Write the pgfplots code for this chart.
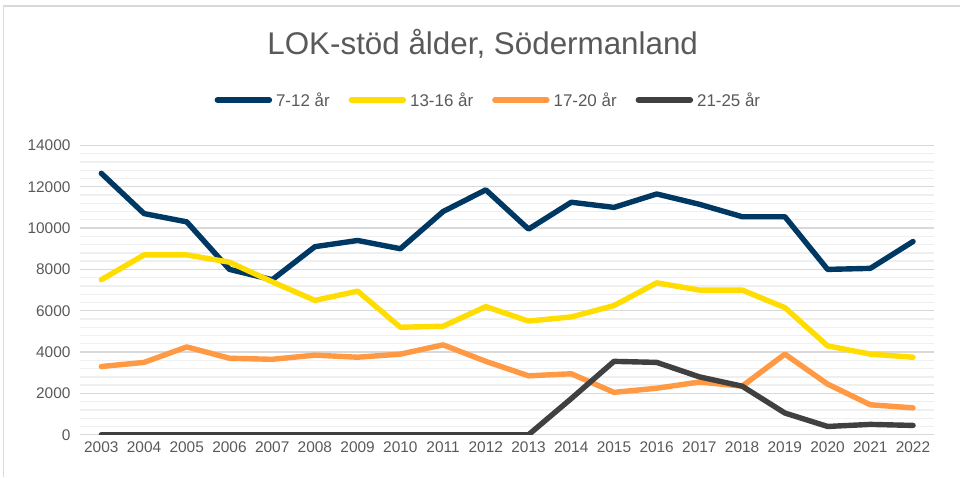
\documentclass[border=0pt]{standalone}
\usepackage{pgfplots}
\pgfplotsset{compat=1.18}
\usepackage{fontspec}
\setmainfont{Liberation Sans}
\definecolor{navy}{HTML}{003864}
\definecolor{yel}{HTML}{FFDD00}
\definecolor{ora}{HTML}{FF9944}
\definecolor{dgray}{HTML}{404040}
\definecolor{txt}{HTML}{595959}
\definecolor{gmaj}{HTML}{D9D9D9}
\definecolor{gmin}{HTML}{EFEFEF}
\begin{document}
\begin{tikzpicture}
\path (0,0) rectangle (961bp,477bp);
\draw[gmaj, line width=1.2bp] (3.5bp,0) -- (3.5bp,471bp) -- (961bp,471bp);
\node[anchor=base, text=txt, font=\fontsize{31.5}{36}\selectfont] at (483bp,422bp) {LOK-stöd ålder, Södermanland};
\begin{axis}[
  at={(80bp,42bp)}, anchor=south west,
  scale only axis, width=855bp, height=289.5bp,
  xmin=2002.5, xmax=2022.5, ymin=0, ymax=14000,
  xtick={2003,...,2022}, ytick={0,2000,...,14000},
  minor ytick={400,800,...,13600},
  scaled y ticks=false,
  axis line style={draw=none},
  major tick length=0pt, minor tick length=0pt,
  ymajorgrids, yminorgrids,
  major grid style={gmaj, line width=1.3bp},
  minor grid style={gmin, line width=1.3bp},
  tick label style={text=txt, font=\fontsize{15.5}{18}\selectfont},
  /pgf/number format/assume math mode=true,
  /pgf/number format/1000 sep={},
  xticklabel style={yshift=-3bp},
  yticklabel style={xshift=-6bp},
  legend columns=4,
  legend style={at={(0.478,1.157)}, anchor=center, draw=none, fill=none,
    font=\fontsize{17}{20}\selectfont, text=txt,
    /tikz/every odd column/.append style={column sep=2bp},
    /tikz/every even column/.append style={column sep=17bp}},
  legend image code/.code={\draw[#1, line width=5.5bp, line cap=round] (0bp,0bp) -- (52bp,0bp);},
  every axis plot/.append style={line width=5.4bp, line join=round, line cap=round},
]
\addplot[navy] coordinates {(2003,12650)(2004,10700)(2005,10300)(2006,8000)(2007,7500)(2008,9100)(2009,9400)(2010,9000)(2011,10800)(2012,11850)(2013,9950)(2014,11250)(2015,11000)(2016,11650)(2017,11150)(2018,10550)(2019,10550)(2020,8000)(2021,8050)(2022,9350)};
\addlegendentry{7-12 år}
\addplot[yel] coordinates {(2003,7500)(2004,8700)(2005,8700)(2006,8350)(2007,7400)(2008,6500)(2009,6950)(2010,5200)(2011,5250)(2012,6200)(2013,5500)(2014,5700)(2015,6250)(2016,7350)(2017,7000)(2018,7000)(2019,6150)(2020,4300)(2021,3900)(2022,3750)};
\addlegendentry{13-16 år}
\addplot[ora] coordinates {(2003,3300)(2004,3500)(2005,4250)(2006,3700)(2007,3650)(2008,3850)(2009,3750)(2010,3900)(2011,4350)(2012,3550)(2013,2850)(2014,2950)(2015,2050)(2016,2250)(2017,2550)(2018,2350)(2019,3900)(2020,2450)(2021,1450)(2022,1300)};
\addlegendentry{17-20 år}
\addplot[dgray] coordinates {(2003,0)(2004,0)(2005,0)(2006,0)(2007,0)(2008,0)(2009,0)(2010,0)(2011,0)(2012,0)(2013,0)(2014,1750)(2015,3550)(2016,3500)(2017,2800)(2018,2350)(2019,1050)(2020,400)(2021,500)(2022,450)};
\addlegendentry{21-25 år}
\end{axis}
\end{tikzpicture}
\end{document}
